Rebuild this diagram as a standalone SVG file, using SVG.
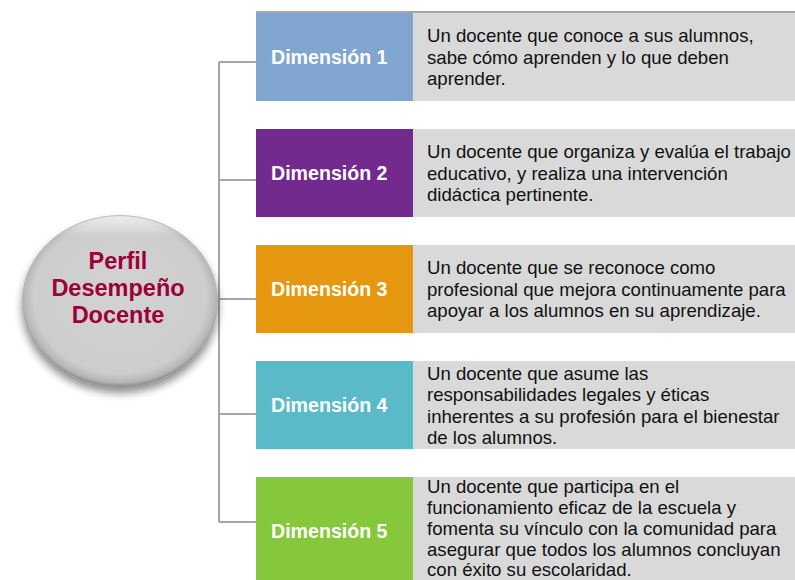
<svg xmlns="http://www.w3.org/2000/svg" width="795" height="580" viewBox="0 0 795 580">
<defs>
<style>
.dim{font-family:"Liberation Sans",Arial,sans-serif;font-weight:bold;font-size:19.6px;fill:#ffffff}
.txt{font-family:"Liberation Sans",Arial,sans-serif;font-size:18.6px;fill:#111111}
.bg{fill:#d9d9d9}
.conn{stroke:#a6a6a6;stroke-width:2;fill:none}
.title{font-family:"Liberation Sans",Arial,sans-serif;font-weight:bold;font-size:23.5px;fill:#9b0039}
</style>
<radialGradient id="eg" cx="50%" cy="48%" r="52%">
<stop offset="0" stop-color="#d2d2d2"/>
<stop offset="0.85" stop-color="#cdcdcd"/>
<stop offset="0.95" stop-color="#b5b5b5"/>
<stop offset="1" stop-color="#888888"/>
</radialGradient>
<linearGradient id="hl" x1="0" y1="0" x2="0" y2="1">
<stop offset="0" stop-color="#ffffff" stop-opacity="0.7"/>
<stop offset="0.12" stop-color="#ffffff" stop-opacity="0"/>
<stop offset="1" stop-color="#ffffff" stop-opacity="0"/>
</linearGradient>
<filter id="sh" x="-20%" y="-20%" width="140%" height="150%">
<feGaussianBlur in="SourceAlpha" stdDeviation="4"/>
<feOffset dx="0" dy="6" result="b"/>
<feComponentTransfer><feFuncA type="linear" slope="0.45"/></feComponentTransfer>
<feMerge><feMergeNode/><feMergeNode in="SourceGraphic"/></feMerge>
</filter>
</defs>
<rect width="795" height="580" fill="#ffffff"/>
<g id="connectors">
<path class="conn" d="M219 62 V522"/>
<path class="conn" d="M219 62 H256"/>
<path class="conn" d="M219 180 H256"/>
<path class="conn" d="M216 299 H256"/>
<path class="conn" d="M219 414 H256"/>
<path class="conn" d="M219 522 H256"/>
</g>
<g id="center">
<ellipse cx="120" cy="301" rx="98" ry="86" fill="url(#eg)" filter="url(#sh)"/>
<ellipse cx="120" cy="301" rx="97" ry="85" fill="url(#hl)"/>
<text class="title" text-anchor="middle" x="118" y="269">Perfil</text>
<text class="title" text-anchor="middle" x="118" y="296">Desempeño</text>
<text class="title" text-anchor="middle" x="118" y="323">Docente</text>
</g>
<g id="dim1">
<rect class="bg" x="413" y="13" width="382" height="88"/>
<rect x="256" y="13" width="157" height="88" fill="#80a5cf"/>
<line x1="256" y1="12" x2="795" y2="12" stroke="#a6a6a6" stroke-width="2"/>
<text class="dim" x="271" y="64">Dimensión 1</text>
<text class="txt" x="427"><tspan x="427" y="42">Un docente que conoce a sus alumnos,</tspan><tspan x="427" y="63.5">sabe cómo aprenden y lo que deben</tspan><tspan x="427" y="85">aprender.</tspan></text>
</g>
<g id="dim2">
<rect class="bg" x="413" y="129" width="382" height="88"/>
<rect x="256" y="129" width="157" height="88" fill="#732a8e"/>
<text class="dim" x="271" y="180">Dimensión 2</text>
<text class="txt"><tspan x="427" y="158">Un docente que organiza y evalúa el trabajo</tspan><tspan x="427" y="179.5">educativo, y realiza una intervención</tspan><tspan x="427" y="201">didáctica pertinente.</tspan></text>
</g>
<g id="dim3">
<rect class="bg" x="413" y="245" width="382" height="88"/>
<rect x="256" y="245" width="157" height="88" fill="#e5980f"/>
<text class="dim" x="271" y="296">Dimensión 3</text>
<text class="txt"><tspan x="427" y="274">Un docente que se reconoce como</tspan><tspan x="427" y="295.5">profesional que mejora continuamente para</tspan><tspan x="427" y="317">apoyar a los alumnos en su aprendizaje.</tspan></text>
</g>
<g id="dim4">
<rect class="bg" x="413" y="361" width="382" height="88"/>
<rect x="256" y="361" width="157" height="88" fill="#5bbac7"/>
<text class="dim" x="271" y="412">Dimensión 4</text>
<text class="txt"><tspan x="427" y="380">Un docente que asume las</tspan><tspan x="427" y="401.3">responsabilidades legales y éticas</tspan><tspan x="427" y="422.6">inherentes a su profesión para el bienestar</tspan><tspan x="427" y="444">de los alumnos.</tspan></text>
</g>
<g id="dim5">
<rect class="bg" x="413" y="477" width="382" height="103"/>
<rect x="256" y="477" width="157" height="103" fill="#86c83b"/>
<text class="dim" x="271" y="538">Dimensión 5</text>
<text class="txt"><tspan x="427" y="492.5">Un docente que participa en el</tspan><tspan x="427" y="513.5">funcionamiento eficaz de la escuela y</tspan><tspan x="427" y="534.5">fomenta su vínculo con la comunidad para</tspan><tspan x="427" y="555.5">asegurar que todos los alumnos concluyan</tspan><tspan x="427" y="575.5">con éxito su escolaridad.</tspan></text>
</g>
</svg>
